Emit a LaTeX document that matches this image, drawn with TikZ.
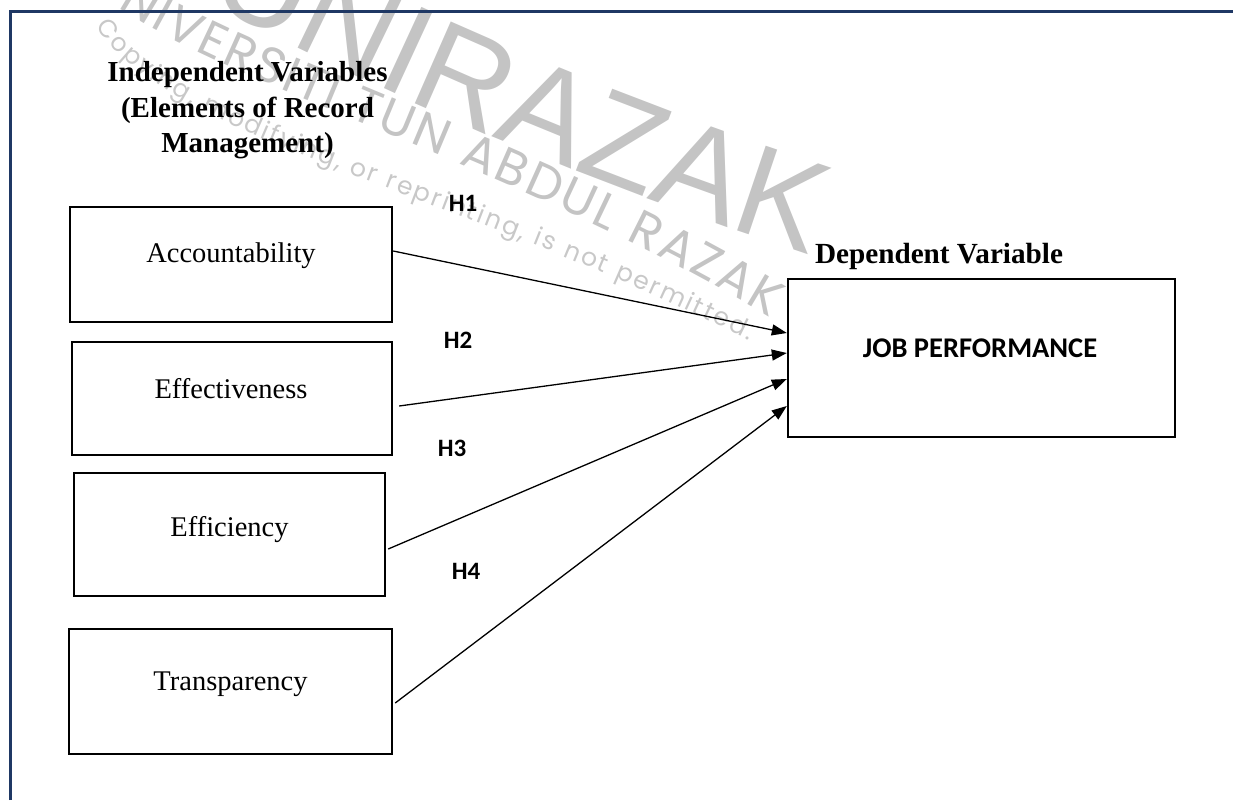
\documentclass[tikz,border=0pt]{standalone}
\usepackage{fontspec}
\setmainfont{Liberation Serif}
\newfontfamily\calfont{Carlito}
\newfontfamily\wmfont{Poppins}
\newfontfamily\wmbig{Liberation Sans}
\usetikzlibrary{arrows.meta,decorations.text}
\definecolor{framenavy}{HTML}{1F3864}
\definecolor{wmgray}{HTML}{C4C4C4}
\definecolor{wmlight}{HTML}{C8C8C8}
\begin{document}
\begin{tikzpicture}[x=1pt,y=-1pt,
  box/.style={draw=black, line width=2.4pt, inner sep=0pt},
  lbl/.style={font=\fontsize{28.5}{34}\selectfont, anchor=base, inner sep=0pt},
  title/.style={font=\bfseries\fontsize{29}{35.5}\selectfont, align=center, inner sep=0pt},
  hyp/.style={font=\calfont\bfseries\fontsize{25}{30}\selectfont, inner sep=0pt},
  link/.style={line width=1.3pt, -{Triangle[length=15pt,width=11pt]}}]
\useasboundingbox (0,0) rectangle (1233,800);
% watermark
\begin{scope}
\clip (0,0) rectangle (1233,800);
\path[decorate, decoration={text along path, text align=right,
  text={|\wmbig\fontsize{130}{130}\selectfont\color{wmgray}|UNIRAZAK}}]
  (150,-30) .. controls (350,80) and (550,170) .. (810,255);
\path[decorate, decoration={text along path, text align={fit to path},
  text={|\wmfont\fontsize{50}{50}\selectfont\color{wmgray}|UNIVERSITI TUN ABDUL RAZAK}}]
  (88,-14) .. controls (200,80) and (510,160) .. (770,318);
\path[decorate, decoration={text along path, text align={fit to path},
  text={|\wmfont\fontsize{25}{25}\selectfont\color{wmlight}|Copying, modifying, or reprinting, is not permitted.}}]
  (96,26) .. controls (170,140) and (440,185) .. (748,340);
\end{scope}
% frame
\draw[framenavy, line width=3pt] (10,800) -- (10,12) -- (1233,12);
% titles
\node[title] (indep) at (247.5,110.5) {Independent Variables\\(Elements of Record\\Management)};
\node[lbl, font=\bfseries\fontsize{29.2}{34}\selectfont] (dep) at (939,263) {Dependent Variable};
% boxes
\node[box, minimum width=322pt, minimum height=115pt] (acc) at (231,264.5) {};
\node[lbl] (accl) at (231,262) {Accountability};
\node[box, minimum width=320pt, minimum height=113pt] (eff) at (232,398.5) {};
\node[lbl] (effl) at (231,398) {Effectiveness};
\node[box, minimum width=311pt, minimum height=123pt] (effi) at (229.5,534.5) {};
\node[lbl] (effil) at (229.5,536) {Efficiency};
\node[box, minimum width=323pt, minimum height=125pt] (tra) at (230.5,691.5) {};
\node[lbl] (tral) at (230.5,690) {Transparency};
\node[box, minimum width=387pt, minimum height=158pt] (jp) at (981.5,358) {};
\node[lbl, font=\calfont\bfseries\fontsize{28.5}{32}\selectfont] (jpl) at (980,357) {JOB PERFORMANCE};
% hypotheses
\node[hyp] (h1) at (463,203) {H1};
\node[hyp] (h2) at (458,340) {H2};
\node[hyp] (h3) at (452,448) {H3};
\node[hyp] (h4) at (466,571) {H4};
% connectors
\draw[link] ([yshift=13.5pt]acc.east) -- ([yshift=25pt]jp.west);
\draw[link] ([shift={(6pt,-7.5pt)}]eff.east) -- ([yshift=5pt]jp.west);
\draw[link] ([shift={(2pt,-14.5pt)}]effi.east) -- ([yshift=-21pt]jp.west);
\draw[link] ([shift={(2pt,-11.5pt)}]tra.east) -- ([yshift=-48pt]jp.west);
\end{tikzpicture}
\end{document}
